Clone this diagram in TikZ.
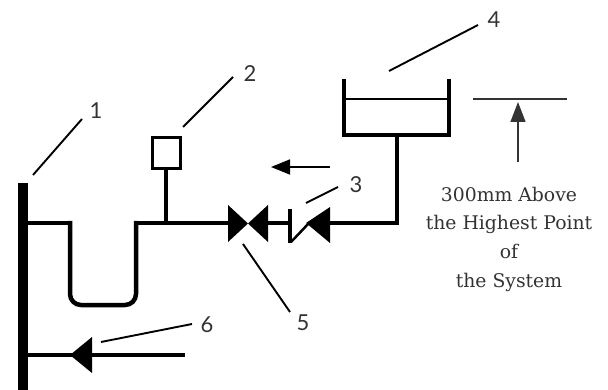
\documentclass[tikz,border=0pt]{standalone}
\usepackage{fontspec}
\newfontfamily\notefont{DejaVu Serif}
\newfontfamily\numfont{Lato}
\usetikzlibrary{arrows.meta}
\definecolor{inkgray}{HTML}{333333}

\begin{document}
\begin{tikzpicture}
        [x=1pt, y=-1pt,
         pipe/.style={line width=4.5pt, black},
         leader/.style={line width=1.9pt, black},
         thinline/.style={line width=1.3pt, black!80},
         num/.style={font=\numfont\fontsize{22}{22}\selectfont, text=inkgray, inner sep=0},
         note/.style={align=center, font=\notefont\fontsize{18.8}{28.7}\selectfont, text=inkgray, inner sep=0}]

        \useasboundingbox (0,0) rectangle (608,390);

        % riser
        \coordinate (bartop) at (23,183);
        \coordinate (barbot) at (23,390);
        \draw[line width=10pt] (bartop) -- (barbot);

        % trap and branch
        \coordinate (tapL) at (28,223);
        \coordinate (trapL) at (70,223);
        \coordinate (trapR) at (136,223);
        \coordinate (gvL) at (228,223);
        \draw[pipe] (tapL) -- (trapL);
        \draw[pipe, rounded corners=11pt] ([yshift=2pt]trapL) -- (70,305) -- (136,305) -- ([yshift=2pt]trapR);
        \draw[pipe] ([xshift=-2.25pt]trapR) -- (gvL);

        % sensor
        \coordinate (stem) at (166,223);
        \node[draw, line width=3pt, minimum width=28pt, minimum height=31pt, inner sep=0] (sensor) at (166,153) {};
        \draw[pipe] (sensor.south) -- (stem);

        % gate valve
        \fill (228,205) -- (268,242) -- (268,205) -- (228,242) -- cycle;
        \coordinate (gvR) at (268,223);
        \coordinate (cvL) at (290,223);
        \draw[pipe] (gvR) -- (cvL);

        % check valve
        \draw[line width=3.5pt] (290,209) -- (290,243);
        \draw[line width=2.5pt] (291,242) -- (310,222);
        \fill (306,223) -- (330,207) -- (330,243) -- cycle;
        \coordinate (cvR) at (330,223);
        \coordinate (elbow) at (397,223);
        \coordinate (tankout) at (397,135);
        \draw[pipe] (cvR) -- (elbow) -- (tankout);

        % tank
        \draw[pipe] (344,79) -- (344,135) -- (449,135) -- (449,79);
        \draw[line width=1.6pt] (344,99) -- (449,99);

        % level reference
        \coordinate (refL) at (473,99);
        \coordinate (refR) at (567,99);
        \draw[thinline] (refL) -- (refR);
        \coordinate (arrbot) at (518,162);
        \coordinate (arrtop) at (518,102);
        \draw[thinline, -{Triangle[length=20pt, width=15pt]}] (arrbot) -- (arrtop);
        \node[note] (height) at (509,239) {300mm Above\\the Highest Point\\of\\the System};

        % flow direction
        \coordinate (flowA) at (330,167);
        \coordinate (flowB) at (271,167);
        \draw[line width=1.6pt, -{Triangle[length=19pt, width=15pt]}] (flowA) -- (flowB);

        % feed
        \coordinate (feedL) at (28,355);
        \coordinate (feedR) at (185,355);
        \draw[pipe] (feedL) -- (feedR);
        \fill (70,355) -- (92,337) -- (92,373) -- cycle;

        % callouts
        \node[num] (n1) at (96,111) {1};
        \node[num] (n2) at (250,74) {2};
        \node[num] (n3) at (356,185) {3};
        \node[num] (n4) at (494,20) {4};
        \node[num] (n5) at (303,323) {5};
        \node[num] (n6) at (207,325) {6};
        \coordinate (l1) at (33,175);
        \coordinate (l2) at (183,127);
        \coordinate (l3) at (306,203);
        \coordinate (l4) at (389,71);
        \coordinate (l5) at (243,244);
        \coordinate (l6) at (101,342);
        \draw[leader] (l1) -- (82,119);
        \draw[leader] (l2) -- (233,77);
        \draw[leader] (l3) -- (338,187);
        \draw[leader] (l4) -- (478,25);
        \draw[leader] (l5) -- (290,312);
        \draw[leader] (l6) -- (192,324);
      \end{tikzpicture}
\end{document}
